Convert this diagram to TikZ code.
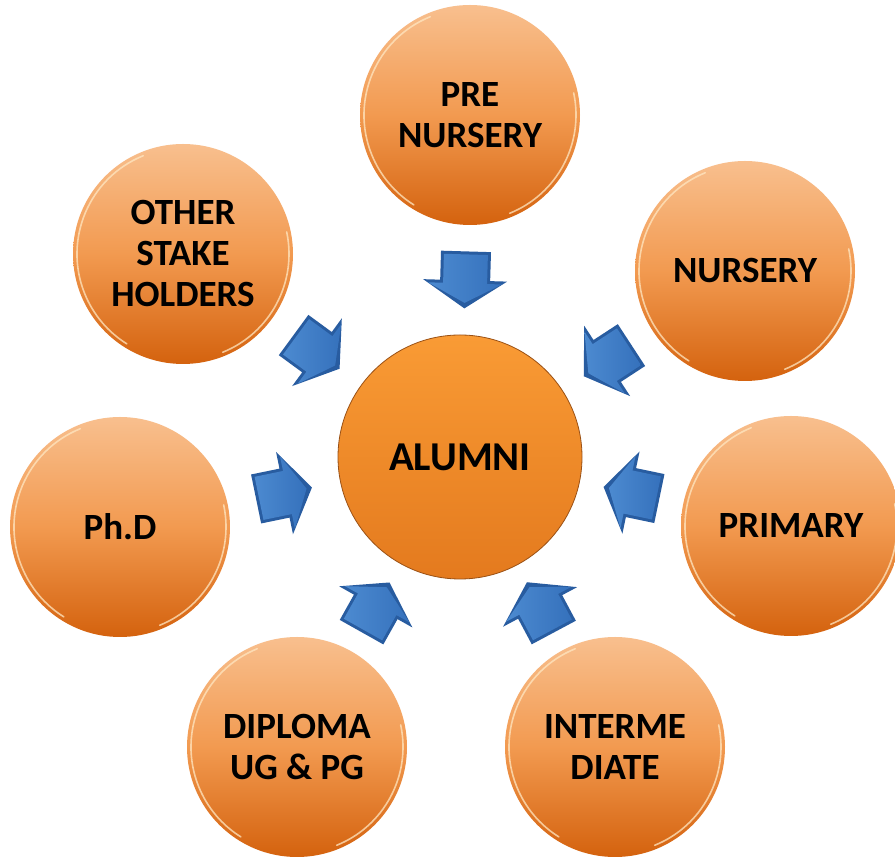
\documentclass[tikz,border=0pt]{standalone}
\usepackage{fontspec}
\setmainfont{Carlito}
\usetikzlibrary{backgrounds,calc}
\definecolor{otop}{HTML}{F8BF8E}
\definecolor{omid}{HTML}{F29A50}
\definecolor{obot}{HTML}{D4620E}
\definecolor{ctop}{HTML}{F99B35}
\definecolor{cbot}{HTML}{E47A1E}
\definecolor{cedge}{HTML}{9A5014}
\definecolor{adark}{HTML}{285CA0}
\definecolor{alight}{HTML}{4C8AD0}
\definecolor{amid}{HTML}{3571BC}
\definecolor{rimc}{HTML}{FFE7C2}
\begin{document}
\begin{tikzpicture}[x=1pt,y=1pt,
  outer/.style={circle, minimum size=220pt, inner sep=0pt, align=center,
    top color=otop, bottom color=obot, middle color=omid,
    font=\fontsize{37}{41}\selectfont\bfseries, text=black},
  hub/.style={circle, minimum size=244pt, inner sep=0pt, align=center,
    top color=ctop, bottom color=cbot, draw=cedge, line width=0.8pt,
    font=\fontsize{41}{46}\selectfont\bfseries, text=black},
  rim/.style={rimc, opacity=0.75, line width=1.6pt, line cap=round},
  barrow/.pic={
    \fill[adark] (-28.5,-25) -- (0.5,-25) -- (0.5,-42) -- (28.5,0) -- (0.5,42) -- (0.5,25) -- (-28.5,25) -- cycle;
    \shade[left color=alight, right color=amid] (-25.5,-22) -- (3.5,-22) -- (3.5,-37) -- (23,0) -- (3.5,37) -- (3.5,22) -- (-25.5,22) -- cycle;
  }]
\useasboundingbox (0,0) rectangle (895,859);
\fill[white] (0,0) rectangle (895,859);

\node[hub]   (alu) at (460,402) {ALUMNI};
\node[outer] (pre) at (470,744) {PRE\\NURSERY};
\node[outer] (nur) at (745,588) {NURSERY};
\node[outer] (pri) at (791,333) {PRIMARY};
\node[outer] (int) at (615,112) {INTERME\\DIATE};
\node[outer] (dip) at (297,112) {DIPLOMA\\UG \& PG};
\node[outer] (phd) at (120,332) {Ph.D};
\node[outer] (oth) at (183,605) {OTHER\\STAKE\\HOLDERS};

\foreach \n in {pre,nur,pri,int,dip,phd,oth}{
  \draw[rim] (\n.center) ++(112:106) arc[start angle=112, end angle=238, radius=106];
  \draw[rim] (\n.center) ++(-68:106) arc[start angle=-68, end angle=12, radius=106];
}

\begin{scope}[on background layer]
  \foreach \n/\r in {pre/110,nur/110,pri/110,int/110,dip/110,phd/110,oth/110,alu/122}{
    \foreach \k in {1,...,10}{
      \fill[black, opacity=0.025] ([shift={(-9pt,-4pt)}]\n.center) circle[radius={\r+1.8*\k}];
    }
  }
\end{scope}

\foreach \n in {pre,nur,pri,int,dip,phd,oth}{
  \path (\n) -- (alu) pic[pos=0.5, sloped, allow upside down]{barrow};
}
\end{tikzpicture}
\end{document}
